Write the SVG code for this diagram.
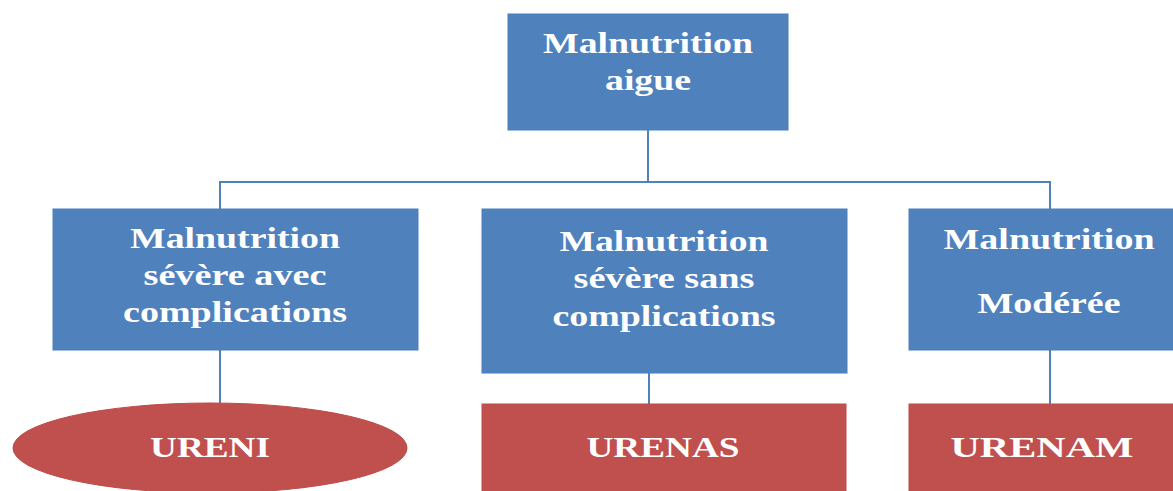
<svg xmlns="http://www.w3.org/2000/svg" width="1173" height="491" viewBox="0 0 1173 491">
<style>
.b{fill:#4F81BD;stroke:#4A7EBB;stroke-width:1}
.r{fill:#C0504D;stroke:#BE4B48;stroke-width:1}
.t{font-family:"Liberation Serif","Times New Roman",serif;font-weight:bold;font-size:30px;fill:#FFFFFF;text-anchor:middle}
.c{fill:none;stroke:#4F81BD;stroke-width:2}
</style>
<rect width="1173" height="491" fill="#FFFFFF"/>
<g id="connectors">
<path class="c" d="M648,130 V182 M220,209 V182 H1050 V209"/>
<path class="c" d="M220,350 V403"/>
<path class="c" d="M649,373 V404"/>
<path class="c" d="M1050,350 V404"/>
</g>
<g id="n-top">
<rect class="b" x="508" y="14" width="280" height="116"/>
<text class="t" x="648" y="53" textLength="210" lengthAdjust="spacingAndGlyphs">Malnutrition</text>
<text class="t" x="648" y="90" textLength="86" lengthAdjust="spacingAndGlyphs">aigue</text>
</g>
<g id="n-avec">
<rect class="b" x="53" y="209" width="365" height="141"/>
<text class="t" x="235" y="248" textLength="210" lengthAdjust="spacingAndGlyphs">Malnutrition</text>
<text class="t" x="235" y="285" textLength="183" lengthAdjust="spacingAndGlyphs">sévère avec</text>
<text class="t" x="235" y="322" textLength="224" lengthAdjust="spacingAndGlyphs">complications</text>
</g>
<g id="n-sans">
<rect class="b" x="482" y="209" width="365" height="164"/>
<text class="t" x="664" y="251" textLength="209" lengthAdjust="spacingAndGlyphs">Malnutrition</text>
<text class="t" x="664" y="288" textLength="181" lengthAdjust="spacingAndGlyphs">sévère sans</text>
<text class="t" x="664" y="326" textLength="223" lengthAdjust="spacingAndGlyphs">complications</text>
</g>
<g id="n-moderee">
<rect class="b" x="909" y="209" width="290" height="141"/>
<text class="t" x="1049" y="249" textLength="211" lengthAdjust="spacingAndGlyphs">Malnutrition</text>
<text class="t" x="1049" y="313" textLength="143" lengthAdjust="spacingAndGlyphs">Modérée</text>
</g>
<g id="n-ureni">
<ellipse class="r" cx="210" cy="448" rx="197" ry="45"/>
<text class="t" x="210" y="457" textLength="120" lengthAdjust="spacingAndGlyphs">URENI</text>
</g>
<g id="n-urenas">
<rect class="r" x="482" y="404" width="364" height="100"/>
<text class="t" x="663" y="457" textLength="153" lengthAdjust="spacingAndGlyphs">URENAS</text>
</g>
<g id="n-urenam">
<rect class="r" x="909" y="404" width="290" height="100"/>
<text class="t" x="1042" y="457" textLength="183" lengthAdjust="spacingAndGlyphs">URENAM</text>
</g>
</svg>
